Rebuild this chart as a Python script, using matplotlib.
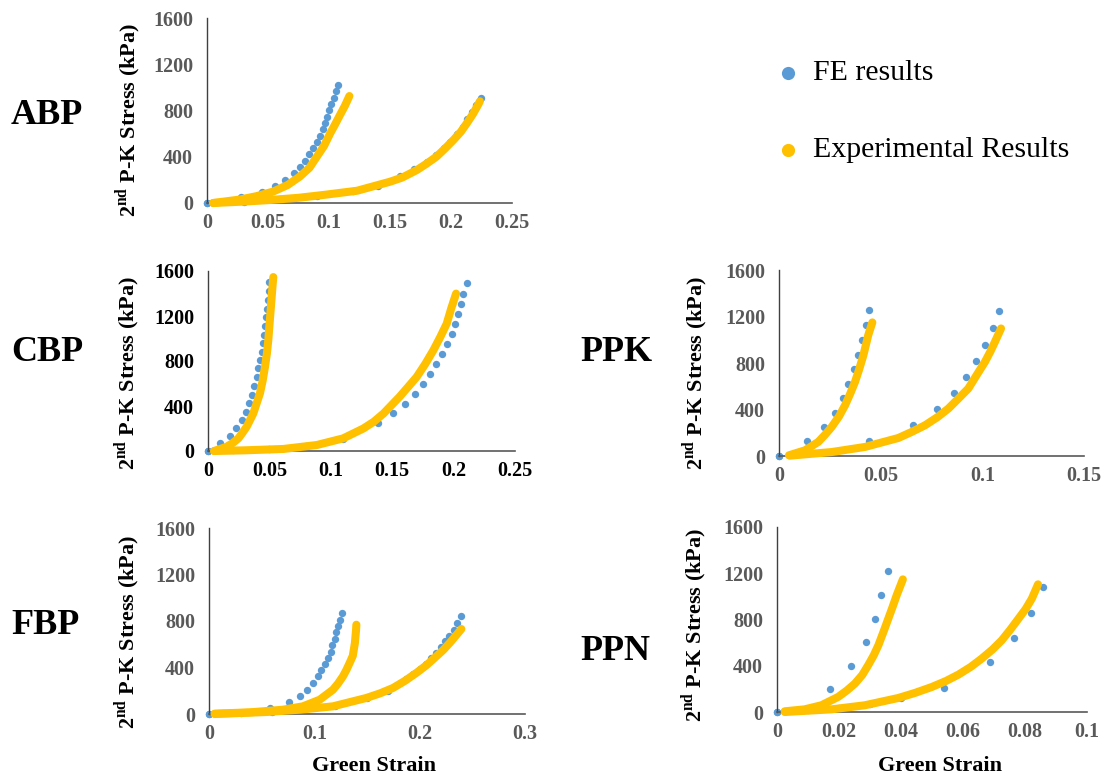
import matplotlib
matplotlib.use("Agg")
import matplotlib.pyplot as plt

plt.rcParams['font.family'] = ['Liberation Serif', 'DejaVu Serif']
plt.rcParams['mathtext.fontset'] = 'custom'
plt.rcParams['mathtext.bf'] = 'Liberation Serif:bold'
plt.rcParams['mathtext.rm'] = 'Liberation Serif'

BLUE = '#5B9BD5'
ORANGE = '#FFC000'

# ---- data (strain, stress kPa) ----
# ABP
abp_fe1_x = [0, 0.028, 0.045, 0.056, 0.064, 0.071, 0.076, 0.080, 0.084, 0.087, 0.090,
             0.093, 0.095, 0.097, 0.0986, 0.1003, 0.102, 0.104, 0.1057, 0.1076]
abp_fe1_y = [0, 54, 98, 150, 199, 257, 314, 363, 421, 473, 530,
             582, 637, 694, 746, 804, 856, 911, 971, 1021]
abp_ex1_x = [0.005, 0.027, 0.041, 0.054, 0.066, 0.076, 0.084, 0.090, 0.096, 0.101, 0.105, 0.109, 0.113, 0.1167]
abp_ex1_y = [0, 30, 60, 98, 155, 228, 305, 400, 495, 603, 680, 761, 840, 925]
abp_fe2_x = [0, 0.03, 0.06, 0.09, 0.12, 0.14, 0.158, 0.170, 0.180, 0.188, 0.194, 0.199,
             0.205, 0.210, 0.2134, 0.217, 0.2205, 0.2243]
abp_fe2_y = [0, 12, 33, 63, 102, 150, 236, 291, 352, 415, 473, 530,
             594, 660, 727, 790, 848, 906]
abp_ex2_x = [0.005, 0.03, 0.052, 0.075, 0.095, 0.123, 0.150, 0.160, 0.172, 0.180, 0.188,
             0.195, 0.202, 0.208, 0.213, 0.218, 0.222, 0.2237]
abp_ex2_y = [0, 12, 26, 45, 69, 106, 184, 220, 285, 340, 400, 470, 545, 615, 690, 770, 845, 880]

# CBP
cbp_fe1_x = [0, 0.0098, 0.018, 0.0228, 0.0274, 0.031, 0.0336, 0.0355, 0.0375, 0.0396, 0.041,
             0.0423, 0.0437, 0.0445, 0.0456, 0.0464, 0.0472, 0.048, 0.0486, 0.0494, 0.0499]
cbp_fe1_y = [0, 68, 136, 207, 275, 349, 423, 497, 577, 654, 734,
             808, 881, 956, 1030, 1109, 1192, 1266, 1340, 1422, 1502]
cbp_ex1_x = [0.005, 0.0152, 0.020, 0.0247, 0.028, 0.0315, 0.034, 0.0369, 0.0395, 0.0423,
             0.0445, 0.0464, 0.048, 0.0491, 0.051, 0.0527, 0.0532]
cbp_ex1_y = [0, 38, 70, 112, 160, 216, 270, 334, 420, 512, 625, 748, 870, 985, 1251, 1488, 1546]
cbp_fe2_x = [0, 0.02, 0.05, 0.08, 0.11, 0.1387, 0.151, 0.1604, 0.1686, 0.1748, 0.1808, 0.1857,
             0.1903, 0.1944, 0.1984, 0.2011, 0.2038, 0.206, 0.208, 0.2106]
cbp_fe2_y = [0, 5, 15, 42, 108, 245, 334, 417, 503, 595, 681, 769,
             858, 947, 1038, 1127, 1222, 1310, 1399, 1494]
cbp_ex2_x = [0.005, 0.03, 0.0613, 0.0885, 0.110, 0.1265, 0.135, 0.143, 0.156, 0.163, 0.170,
             0.177, 0.1835, 0.189, 0.1944, 0.198, 0.202]
cbp_ex2_y = [0, 6, 18, 53, 112, 200, 260, 334, 482, 570, 659, 775, 895, 1010, 1132, 1265, 1399]

# PPK
ppk_fe1_x = [0, 0.0139, 0.0221, 0.0275, 0.0313, 0.0341, 0.0367, 0.039, 0.041, 0.0426, 0.0441]
ppk_fe1_y = [0, 126, 247, 373, 500, 623, 747, 873, 997, 1126, 1255]
ppk_ex1_x = [0.0049, 0.0128, 0.0193, 0.0225, 0.0259, 0.0295, 0.0325, 0.035, 0.0374,
             0.0395, 0.0415, 0.0439, 0.0459]
ppk_ex1_y = [6, 49, 121, 180, 250, 340, 437, 535, 638, 750, 867, 1040, 1149]
ppk_fe2_x = [0, 0.0444, 0.0657, 0.0775, 0.0861, 0.0921, 0.0970, 0.1013, 0.1051, 0.1084]
ppk_fe2_y = [0, 126, 264, 402, 540, 678, 819, 959, 1103, 1246]
ppk_ex2_x = [0.0054, 0.0259, 0.0423, 0.0587, 0.065, 0.0718, 0.078, 0.0833, 0.088, 0.0931,
             0.097, 0.1013, 0.104, 0.1062, 0.1092]
ppk_ex2_y = [3, 34, 78, 155, 205, 264, 335, 408, 490, 580, 690, 810, 900, 982, 1097]

# FBP
fbp_fe1_x = [0, 0.0582, 0.076, 0.086, 0.0934, 0.0987, 0.1035, 0.1066, 0.1098, 0.113, 0.1155,
             0.1171, 0.1193, 0.1209, 0.1228, 0.124, 0.126]
fbp_fe1_y = [0, 52, 106, 152, 209, 267, 324, 381, 430, 482, 533,
             591, 645, 702, 754, 811, 869]
fbp_ex1_x = [0.0054, 0.0386, 0.0703, 0.0892, 0.1051, 0.1177, 0.1225, 0.1272, 0.1305,
             0.1335, 0.1365, 0.1385, 0.1396, 0.1399]
fbp_ex1_y = [3, 14, 37, 66, 123, 209, 262, 324, 380, 439, 500, 610, 720, 768]
fbp_fe2_x = [0, 0.03, 0.06, 0.09, 0.12, 0.15, 0.17, 0.1873, 0.1937, 0.2, 0.2057, 0.2111,
             0.2158, 0.2199, 0.2237, 0.2278, 0.2323, 0.2358, 0.2396]
fbp_fe2_y = [0, 8, 20, 40, 72, 140, 200, 300, 340, 385, 430, 480,
             525, 573, 625, 674, 725, 783, 846]
fbp_ex2_x = [0.0054, 0.0544, 0.0861, 0.1177, 0.1494, 0.1625, 0.1747, 0.186, 0.1968,
             0.2065, 0.2158, 0.2225, 0.2285, 0.234, 0.2396]
fbp_ex2_y = [0, 17, 37, 66, 138, 178, 224, 285, 353, 420, 496, 552, 611, 670, 731]

# PPN
ppn_fe1_x = [0, 0.0171, 0.024, 0.0286, 0.0315, 0.0337, 0.0357]
ppn_fe1_y = [0, 199, 401, 603, 804, 1012, 1217]
ppn_ex1_x = [0.0025, 0.0089, 0.0143, 0.0197, 0.0225, 0.0251, 0.0275, 0.0294, 0.0312,
             0.0327, 0.0343, 0.0359, 0.0373, 0.0386, 0.0406]
ppn_ex1_y = [6, 23, 58, 130, 185, 245, 320, 404, 490, 577, 690, 807, 910, 1009, 1147]
ppn_fe2_x = [0, 0.01, 0.02, 0.03, 0.04, 0.0539, 0.0686, 0.0765, 0.0819, 0.0859]
ppn_fe2_y = [0, 15, 35, 70, 120, 210, 430, 643, 859, 1081]
ppn_ex2_x = [0.0025, 0.0176, 0.0283, 0.0391, 0.0445, 0.0499, 0.0545, 0.0585, 0.0625,
             0.066, 0.0695, 0.0725, 0.0752, 0.0779, 0.0802, 0.0822, 0.0842]
ppn_ex2_y = [0, 23, 58, 121, 165, 216, 268, 323, 390, 461, 540, 620, 710, 807, 890, 980, 1104]

y_ticks = [0, 400, 800, 1200, 1600]
x_ticks_025 = [0, 0.05, 0.1, 0.15, 0.2, 0.25]
x_labels_025 = ['0', '0.05', '0.1', '0.15', '0.2', '0.25']
x_ticks_015 = [0, 0.05, 0.1, 0.15]
x_labels_015 = ['0', '0.05', '0.1', '0.15']
x_ticks_03 = [0, 0.1, 0.2, 0.3]
x_labels_03 = ['0', '0.1', '0.2', '0.3']
x_ticks_01 = [0, 0.02, 0.04, 0.06, 0.08, 0.1]
x_labels_01 = ['0', '0.02', '0.04', '0.06', '0.08', '0.1']

W, H = 1111, 781
fig = plt.figure(figsize=(W / 100, H / 100), dpi=100)


def px_axes(left, right, top, bottom):
    return fig.add_axes([left / W, 1 - bottom / H, (right - left) / W, (bottom - top) / H])


def panel(ax, fe, ex, xticks, xlabels, xmax, tick_color='#595959'):
    for xs, ys in fe:
        ax.plot(xs, ys, 'o', color=BLUE, ms=5.3, mec='none', clip_on=False, zorder=2)
    for xs, ys in ex:
        ax.plot(xs, ys, '-', color=ORANGE, lw=5.8, solid_capstyle='round',
                solid_joinstyle='round', clip_on=False, zorder=3)
    ax.set_xlim(0, xmax)
    ax.set_ylim(0, 1600)
    ax.set_yticks(y_ticks)
    ax.set_xticks(xticks)
    ax.set_xticklabels(xlabels)
    for s in ['top', 'right']:
        ax.spines[s].set_visible(False)
    ax.spines['left'].set_color('#404040')
    ax.spines['bottom'].set_color('#595959')
    ax.spines['left'].set_linewidth(1.0)
    ax.spines['bottom'].set_linewidth(1.2)
    ax.tick_params(length=0, labelsize=14.5, labelcolor=tick_color)
    ax.tick_params(axis='y', pad=10)
    ax.tick_params(axis='x', pad=7)
    for lab in ax.get_xticklabels() + ax.get_yticklabels():
        lab.set_fontweight('bold')
    ax.patch.set_alpha(0)


ax1 = px_axes(207, 512, 18, 203)
panel(ax1, [(abp_fe1_x, abp_fe1_y), (abp_fe2_x, abp_fe2_y)],
      [(abp_ex1_x, abp_ex1_y), (abp_ex2_x, abp_ex2_y)], x_ticks_025, x_labels_025, 0.25)

ax2 = px_axes(208, 515, 271, 451)
panel(ax2, [(cbp_fe1_x, cbp_fe1_y), (cbp_fe2_x, cbp_fe2_y)],
      [(cbp_ex1_x, cbp_ex1_y), (cbp_ex2_x, cbp_ex2_y)], x_ticks_025, x_labels_025, 0.25,
      tick_color='black')

ax3 = px_axes(779, 1084, 270, 456)
panel(ax3, [(ppk_fe1_x, ppk_fe1_y), (ppk_fe2_x, ppk_fe2_y)],
      [(ppk_ex1_x, ppk_ex1_y), (ppk_ex2_x, ppk_ex2_y)], x_ticks_015, x_labels_015, 0.15)

ax4 = px_axes(209, 525, 528, 714)
panel(ax4, [(fbp_fe1_x, fbp_fe1_y), (fbp_fe2_x, fbp_fe2_y)],
      [(fbp_ex1_x, fbp_ex1_y), (fbp_ex2_x, fbp_ex2_y)], x_ticks_03, x_labels_03, 0.3)

ax5 = px_axes(777, 1087, 527, 712)
panel(ax5, [(ppn_fe1_x, ppn_fe1_y), (ppn_fe2_x, ppn_fe2_y)],
      [(ppn_ex1_x, ppn_ex1_y), (ppn_ex2_x, ppn_ex2_y)], x_ticks_01, x_labels_01, 0.1)


def ftext(x, y, s, **kw):
    fig.text(x / W, 1 - y / H, s, **kw)


# row names
for name, x, y in [('ABP', 47, 115), ('CBP', 47, 352), ('PPK', 616, 352),
                   ('FBP', 46, 625), ('PPN', 615, 651)]:
    ftext(x, y, name, fontsize=26, fontweight='bold', ha='center', va='center')

# y axis labels
ylab = r'2$^{\mathbf{nd}}$ P-K Stress (kPa)'
for x, y in [(128, 120), (127, 373), (695, 373), (127, 632), (694, 625)]:
    ftext(x, y, ylab, fontsize=16, fontweight='bold', rotation=90, ha='center', va='center')

# x axis labels
ftext(374, 766, 'Green Strain', fontsize=16, fontweight='bold', ha='center', va='center')
ftext(940, 766, 'Green Strain', fontsize=16, fontweight='bold', ha='center', va='center')

# legend
fig.add_artist(plt.Line2D([788 / W], [1 - 73 / H], marker='o', color=BLUE, ms=9.5, mec='none'))
fig.add_artist(plt.Line2D([788 / W], [1 - 150 / H], marker='o', color=ORANGE, ms=9.5, mec='none'))
ftext(813, 73, 'FE results', fontsize=21.5, ha='left', va='center')
ftext(813, 150, 'Experimental Results', fontsize=21.5, ha='left', va='center')

fig.savefig('out.png', dpi=100)
